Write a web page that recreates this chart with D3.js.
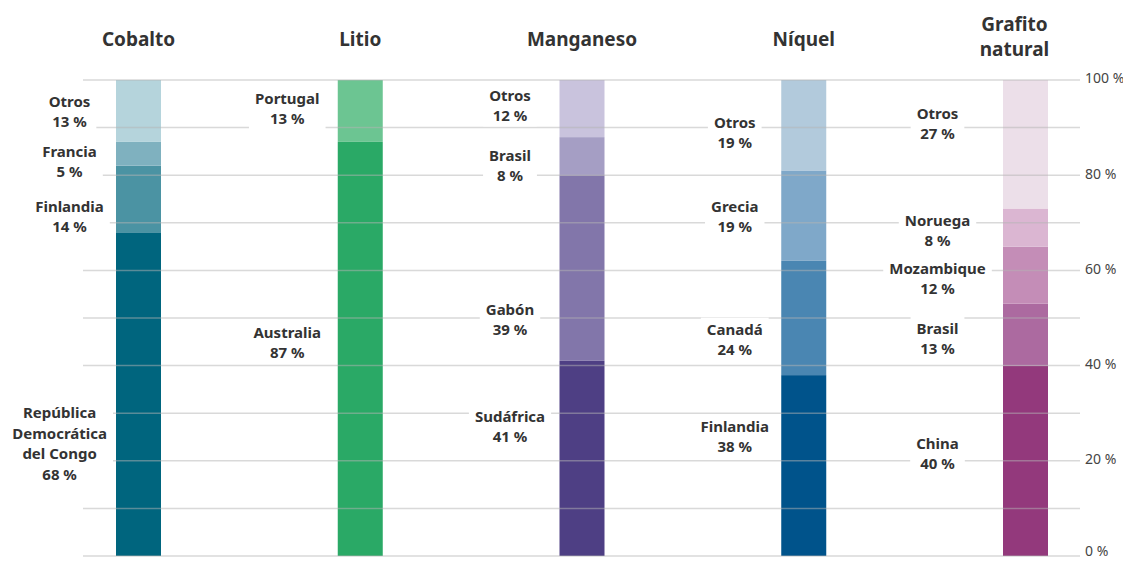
<!DOCTYPE html>
<html>
<head>
<meta charset="utf-8">
<script src="https://cdn.jsdelivr.net/npm/d3@7"></script>
<style>
  body { margin: 0; background: #fff; }
  svg { display: block; font-family: "Noto Sans", "Open Sans", sans-serif; }
</style>
</head>
<body>
<svg id="chart" width="1123" height="561"></svg>
<script>
// minerals, left to right
var minerals = ["Cobalto", "Litio", "Manganeso", "Níquel", "Grafito natural"];

// countries per mineral, from bottom of bar to top
var cobaltoCountries = ["República\nDemocrática\ndel Congo", "Finlandia", "Francia", "Otros"];
var cobaltoShares = [68, 14, 5, 13];
var litioCountries = ["Australia", "Portugal"];
var litioShares = [87, 13];
var manganesoCountries = ["Sudáfrica", "Gabón", "Brasil", "Otros"];
var manganesoShares = [41, 39, 8, 12];
var niquelCountries = ["Finlandia", "Canadá", "Grecia", "Otros"];
var niquelShares = [38, 24, 19, 19];
var grafitoCountries = ["China", "Brasil", "Mozambique", "Noruega", "Otros"];
var grafitoShares = [40, 13, 12, 8, 27];

// where each label sits (percent axis)
var cobaltoLabelAt = [23.5, 71.2, 82.8, 93.3];
var litioLabelAt = [44.7, 93.9];
var manganesoLabelAt = [27.1, 49.6, 81.9, 94.5];
var niquelLabelAt = [25.0, 45.4, 71.2, 88.9];
var grafitoLabelAt = [21.4, 45.6, 58.2, 68.3, 90.8];

var yTicks = [0, 20, 40, 60, 80, 100];
var gridTicks = [0, 10, 20, 30, 40, 50, 60, 70, 80, 90, 100];

// colours, bottom to top
var cobaltoColors = ["#00657e", "#4b93a3", "#7fb1bf", "#b5d4dc"];
var litioColors = ["#2aa966", "#6cc592"];
var manganesoColors = ["#4e3f84", "#8276aa", "#a59ec4", "#c9c3dd"];
var niquelColors = ["#00538b", "#4a86b2", "#7fa8c9", "#b2cadc"];
var grafitoColors = ["#93397c", "#ac6aa0", "#c48db7", "#dbb6d2", "#ecdfe9"];

var labelDx = [-69, -73, -72, -69, -88];

var columns = [
  {countries: cobaltoCountries, shares: cobaltoShares, labelAt: cobaltoLabelAt, colors: cobaltoColors},
  {countries: litioCountries, shares: litioShares, labelAt: litioLabelAt, colors: litioColors},
  {countries: manganesoCountries, shares: manganesoShares, labelAt: manganesoLabelAt, colors: manganesoColors},
  {countries: niquelCountries, shares: niquelShares, labelAt: niquelLabelAt, colors: niquelColors},
  {countries: grafitoCountries, shares: grafitoShares, labelAt: grafitoLabelAt, colors: grafitoColors}
];

var svg = d3.select("#chart");
var barW = 45;
var lineH = 20.5;

var x = d3.scalePoint().domain(minerals).range([138.5, 1025.5]);
var y = d3.scaleLinear().domain([0, 100]).range([556, 80]);

// bars
var g_bars = svg.append("g").attr("id", "bars");
columns.forEach(function(col, i) {
  var cx = x(minerals[i]);
  var cum = 0;
  col.shares.forEach(function(v, j) {
    g_bars.append("rect")
      .attr("x", cx - barW / 2)
      .attr("y", y(cum + v))
      .attr("width", barW)
      .attr("height", y(cum) - y(cum + v))
      .style("fill", col.colors[j]);
    cum += v;
  });
});

// grid lines over the bars
svg.append("g").attr("id", "grid")
  .selectAll("line")
  .data(gridTicks)
  .join("line")
  .attr("x1", 83)
  .attr("x2", 1080)
  .attr("y1", function(d) { return y(d); })
  .attr("y2", function(d) { return y(d); })
  .style("stroke", "#b4b4b4")
  .style("stroke-opacity", 0.5)
  .style("stroke-width", 1.5);

// right axis
var yAxis = d3.axisRight(y).tickValues(yTicks).tickSize(0).tickPadding(0)
  .tickFormat(function(d) { return d + " %"; });
var g_axis = svg.append("g").attr("transform", "translate(1085,0)").call(yAxis);
g_axis.select(".domain").remove();
g_axis.selectAll("text")
  .attr("dy", function(d) { return d === 0 ? "-0.05em" : "0.2em"; })
  .style("font-family", "'Noto Sans', sans-serif")
  .style("font-size", "14px")
  .style("fill", "#444");

// titles
var g_titles = svg.append("g").attr("id", "titles");
minerals.forEach(function(m) {
  var words = m === "Grafito natural" ? ["Grafito", "natural"] : [m];
  var t = g_titles.append("text")
    .attr("x", x(m))
    .attr("text-anchor", "middle")
    .style("font-size", "19px")
    .style("font-weight", "bold")
    .style("fill", "#333");
  words.forEach(function(w, k) {
    t.append("tspan")
      .attr("x", x(m) - (words.length === 1 ? 0 : 11))
      .attr("y", (words.length === 1 ? 46 : 31) + k * 25)
      .text(w);
  });
});

// segment labels with white backing
var g_labels = svg.append("g").attr("id", "labels");
columns.forEach(function(col, i) {
  var barLeft = x(minerals[i]) - barW / 2;
  col.countries.forEach(function(name, j) {
    var lx = x(minerals[i]) + labelDx[i];
    var lines = name.split("\n").concat([col.shares[j] + " %"]);
    var cy = y(col.labelAt[j]);
    var g = g_labels.append("g");
    var bg = g.append("rect").style("fill", "#fff");
    var t = g.append("text")
      .attr("text-anchor", "middle")
      .style("font-size", "15px")
      .style("font-weight", "bold")
      .style("fill", "#333");
    lines.forEach(function(s, k) {
      t.append("tspan")
        .attr("x", lx)
        .attr("y", cy - (lines.length - 1) / 2 * lineH + 5)
        .attr("dy", k * lineH)
        .text(s);
    });
    // keep wide labels clear of the bar
    var w = t.node().getBBox().width;
    var over = lx + w / 2 - (barLeft - 9);
    if (over > 0) {
      lx -= over;
      t.selectAll("tspan").attr("x", lx);
    }
    var bb = t.node().getBBox();
    var right = Math.min(bb.x + bb.width + 6, barLeft - 1);
    bg.attr("x", bb.x - 6).attr("y", bb.y - 1)
      .attr("width", right - bb.x + 6).attr("height", bb.height + 2);
  });
});
</script>
</body>
</html>
